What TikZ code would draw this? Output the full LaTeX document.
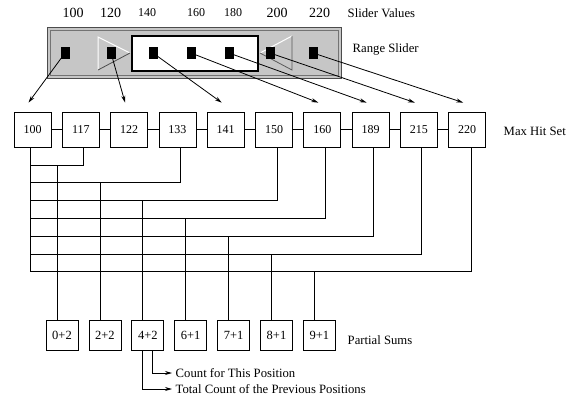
\documentclass[tikz,border=0pt]{standalone}
\usepackage{fontspec}
\setmainfont{Liberation Serif}
\usetikzlibrary{arrows.meta}
\begin{document}
\begin{tikzpicture}[x=1pt,y=-1pt,line width=0.8pt,
  hitbox/.style={draw,minimum width=37pt,minimum height=35pt,inner sep=0pt,font=\fontsize{12}{14}\selectfont},
  sumbox/.style={draw,minimum width=32pt,minimum height=30pt,inner sep=0pt,font=\fontsize{12.5}{14}\selectfont},
  knob/.style={fill=black,minimum width=9pt,minimum height=12pt,inner sep=0pt},
  bigval/.style={font=\fontsize{14}{16}\selectfont},
  smallval/.style={font=\fontsize{12}{14}\selectfont},
  caption/.style={anchor=west,font=\fontsize{12.7}{15}\selectfont},
  hit/.style={-{Stealth[length=7pt,width=4pt]}}]
\useasboundingbox (0,0) rectangle (568,400);
\draw[black!70,fill=gray!45,line width=1pt] (47,27) rectangle (341,78);
\draw[black!55,line width=0.6pt] (50,30) rectangle (338,75);
\fill[gray!45] (98,37) -- (130,53) -- (98,70) -- cycle;
\draw[white,line width=1pt] (98,70) -- (98,37) -- (130,53);
\draw[gray!60!black,line width=0.8pt] (130,53) -- (98,70);
\draw[white,line width=1pt] (260,53) -- (292,36);
\draw[gray!70!black,line width=0.8pt] (292,36) -- (292,70) -- (260,53);
\draw[line width=1.6pt,fill=white] (132,36) rectangle (258,71);
\node[knob] (s1) at (65,53) {};
\node[knob] (s2) at (111,53) {};
\node[knob] (s3) at (153,53) {};
\node[knob] (s4) at (191,53) {};
\node[knob] (s5) at (229,53) {};
\node[knob] (s6) at (270,53) {};
\node[knob] (s7) at (313,53) {};
\node[bigval] (v1) at (73,12.7) {100};
\node[bigval] (v2) at (110.5,12.7) {120};
\node[smallval] (v3) at (147,12.7) {140};
\node[smallval] (v4) at (196,12.7) {160};
\node[smallval] (v5) at (233,12.7) {180};
\node[bigval] (v6) at (277,12.7) {200};
\node[bigval] (v7) at (319.5,12.7) {220};
\node[caption] (lv) at (344,12.7) {Slider Values};
\node[caption] (lr) at (349,49) {Range Slider};
\foreach \v [count=\i] in {100,117,122,133,141,150,160,189,215,220}
  \node[hitbox] (h\i) at ({32.5+48.3*(\i-1)},129.5) {\v};
\node[caption] (lh) at (500,131) {Max Hit Set};
\draw (h1) -- (h2) -- (h3) -- (h4) -- (h5) -- (h6) -- (h7) -- (h8) -- (h9) -- (h10);
\draw[hit] (s1.center) -- ([xshift=-4pt,yshift=9pt]h1.north);
\draw[hit] (s2.center) -- ([xshift=-4pt,yshift=9pt]h3.north);
\draw[hit] (s3.center) -- ([xshift=-4pt,yshift=9pt]h5.north);
\draw[hit] (s4.center) -- ([xshift=-4pt,yshift=9pt]h7.north);
\draw[hit] (s5.center) -- ([xshift=-4pt,yshift=9pt]h8.north);
\draw[hit] (s6.center) -- ([xshift=-4pt,yshift=9pt]h9.north);
\draw[hit] (s7.center) -- ([xshift=-4pt,yshift=9pt]h10.north);
\coordinate (r1) at (30,165);
\coordinate (r2) at (30,182.8);
\coordinate (r3) at (30,200.6);
\coordinate (r4) at (30,218.4);
\coordinate (r5) at (30,236.2);
\coordinate (r6) at (30,254);
\coordinate (r7) at (30,271.8);
\draw ([xshift=-2.5pt]h1.south) -- (r7);
\draw ([xshift=2.5pt]h2.south) |- (r1);
\draw ([xshift=2.5pt]h4.south) |- (r2);
\draw ([xshift=3pt]h6.south) |- (r3);
\draw ([xshift=3pt]h7.south) |- (r4);
\draw ([xshift=2.5pt]h8.south) |- (r5);
\draw ([xshift=2.5pt]h9.south) |- (r6);
\draw ([xshift=4pt]h10.south) |- (r7);
\foreach \v [count=\i] in {0+2,2+2,4+2,6+1,7+1,8+1,9+1}
  \node[sumbox] (p\i) at ({62+42.9*(\i-1)},335) {\v};
\node[caption] (lp) at (344,340) {Partial Sums};
\foreach \i in {1,...,7} {
  \coordinate (d\i) at ([xshift=-5pt]p\i.north);
  \draw (d\i) -- (d\i |- r\i);
}
\node[caption] (cnt) at (172,373) {Count for This Position};
\node[caption] (tot) at (172,389) {Total Count of the Previous Positions};
\draw[hit] ([xshift=-5pt]p3.south) |- (tot.west);
\draw[hit] ([xshift=5pt]p3.south) |- (cnt.west);
\end{tikzpicture}
\end{document}
